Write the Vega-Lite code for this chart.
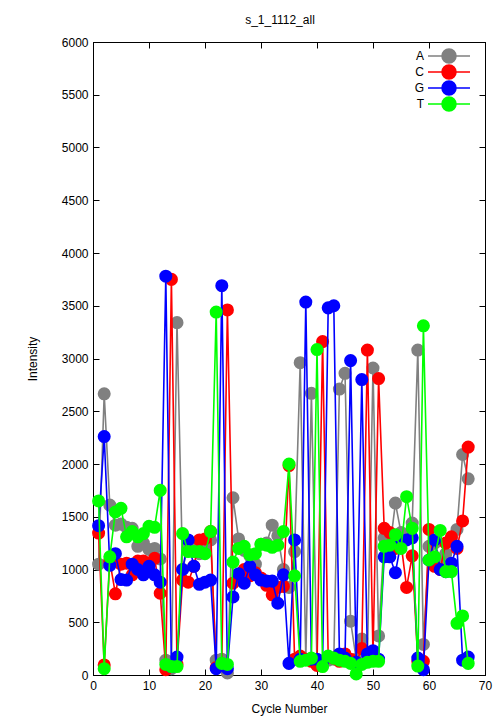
{
  "$schema": "https://vega.github.io/schema/vega-lite/v6.json",
  "autosize": "none",
  "width": 392,
  "height": 633,
  "padding": {"left": 93, "top": 42, "right": 19, "bottom": 45},
  "background": "white",
  "config": {
    "font": "Liberation Sans",
    "view": {"stroke": "black", "strokeWidth": 1},
    "axis": {"labelFont": "Liberation Sans", "titleFont": "Liberation Sans", "labelFontSize": 12, "titleFontSize": 12, "titleFontWeight": "normal", "labelColor": "black", "titleColor": "black", "domainColor": "black", "tickColor": "black", "grid": false, "tickSize": -6, "labelPadding": 11},
    "legend": {"labelFont": "Liberation Sans", "labelFontSize": 12, "padding": 0}
  },
  "title": {"text": "s_1_1112_all", "fontSize": 12, "fontWeight": "normal", "font": "Liberation Sans", "offset": 9, "dx": -9},
  "resolve": {"axis": {"x": "independent", "y": "independent"}},
  "data": {"values": [
    {"cycle":1,"base":"A","value":1050},{"cycle":1,"base":"C","value":1345},{"cycle":1,"base":"G","value":1415},{"cycle":1,"base":"T","value":1650},
    {"cycle":2,"base":"A","value":2665},{"cycle":2,"base":"C","value":95},{"cycle":2,"base":"G","value":2260},{"cycle":2,"base":"T","value":60},
    {"cycle":3,"base":"A","value":1610},{"cycle":3,"base":"C","value":1080},{"cycle":3,"base":"G","value":1040},{"cycle":3,"base":"T","value":1120},
    {"cycle":4,"base":"A","value":1420},{"cycle":4,"base":"C","value":770},{"cycle":4,"base":"G","value":1150},{"cycle":4,"base":"T","value":1545},
    {"cycle":5,"base":"A","value":1430},{"cycle":5,"base":"C","value":1050},{"cycle":5,"base":"G","value":905},{"cycle":5,"base":"T","value":1580},
    {"cycle":6,"base":"A","value":1400},{"cycle":6,"base":"C","value":1060},{"cycle":6,"base":"G","value":900},{"cycle":6,"base":"T","value":1310},
    {"cycle":7,"base":"A","value":1390},{"cycle":7,"base":"C","value":950},{"cycle":7,"base":"G","value":1050},{"cycle":7,"base":"T","value":1360},
    {"cycle":8,"base":"A","value":1220},{"cycle":8,"base":"C","value":1080},{"cycle":8,"base":"G","value":1000},{"cycle":8,"base":"T","value":1310},
    {"cycle":9,"base":"A","value":1250},{"cycle":9,"base":"C","value":1080},{"cycle":9,"base":"G","value":950},{"cycle":9,"base":"T","value":1340},
    {"cycle":10,"base":"A","value":1190},{"cycle":10,"base":"C","value":1060},{"cycle":10,"base":"G","value":1030},{"cycle":10,"base":"T","value":1410},
    {"cycle":11,"base":"A","value":1200},{"cycle":11,"base":"C","value":1106},{"cycle":11,"base":"G","value":950},{"cycle":11,"base":"T","value":1400},
    {"cycle":12,"base":"A","value":1100},{"cycle":12,"base":"C","value":775},{"cycle":12,"base":"G","value":880},{"cycle":12,"base":"T","value":1750},
    {"cycle":13,"base":"A","value":140},{"cycle":13,"base":"C","value":50},{"cycle":13,"base":"G","value":3780},{"cycle":13,"base":"T","value":100},
    {"cycle":14,"base":"A","value":60},{"cycle":14,"base":"C","value":3750},{"cycle":14,"base":"G","value":80},{"cycle":14,"base":"T","value":80},
    {"cycle":15,"base":"A","value":3340},{"cycle":15,"base":"C","value":100},{"cycle":15,"base":"G","value":170},{"cycle":15,"base":"T","value":80},
    {"cycle":16,"base":"A","value":1000},{"cycle":16,"base":"C","value":900},{"cycle":16,"base":"G","value":1000},{"cycle":16,"base":"T","value":1340},
    {"cycle":17,"base":"A","value":1230},{"cycle":17,"base":"C","value":880},{"cycle":17,"base":"G","value":1280},{"cycle":17,"base":"T","value":1170},
    {"cycle":18,"base":"A","value":1220},{"cycle":18,"base":"C","value":1030},{"cycle":18,"base":"G","value":1030},{"cycle":18,"base":"T","value":1170},
    {"cycle":19,"base":"A","value":1150},{"cycle":19,"base":"C","value":1280},{"cycle":19,"base":"G","value":860},{"cycle":19,"base":"T","value":1170},
    {"cycle":20,"base":"A","value":1200},{"cycle":20,"base":"C","value":1290},{"cycle":20,"base":"G","value":880},{"cycle":20,"base":"T","value":1150},
    {"cycle":21,"base":"A","value":1280},{"cycle":21,"base":"C","value":1360},{"cycle":21,"base":"G","value":900},{"cycle":21,"base":"T","value":1360},
    {"cycle":22,"base":"A","value":140},{"cycle":22,"base":"C","value":70},{"cycle":22,"base":"G","value":60},{"cycle":22,"base":"T","value":3440},
    {"cycle":23,"base":"A","value":150},{"cycle":23,"base":"C","value":100},{"cycle":23,"base":"G","value":3690},{"cycle":23,"base":"T","value":110},
    {"cycle":24,"base":"A","value":20},{"cycle":24,"base":"C","value":3460},{"cycle":24,"base":"G","value":60},{"cycle":24,"base":"T","value":100},
    {"cycle":25,"base":"A","value":1680},{"cycle":25,"base":"C","value":870},{"cycle":25,"base":"G","value":740},{"cycle":25,"base":"T","value":1070},
    {"cycle":26,"base":"A","value":1290},{"cycle":26,"base":"C","value":920},{"cycle":26,"base":"G","value":960},{"cycle":26,"base":"T","value":1200},
    {"cycle":27,"base":"A","value":1180},{"cycle":27,"base":"C","value":1000},{"cycle":27,"base":"G","value":870},{"cycle":27,"base":"T","value":1220},
    {"cycle":28,"base":"A","value":1130},{"cycle":28,"base":"C","value":940},{"cycle":28,"base":"G","value":1030},{"cycle":28,"base":"T","value":1140},
    {"cycle":29,"base":"A","value":1050},{"cycle":29,"base":"C","value":970},{"cycle":29,"base":"G","value":950},{"cycle":29,"base":"T","value":1150},
    {"cycle":30,"base":"A","value":1240},{"cycle":30,"base":"C","value":920},{"cycle":30,"base":"G","value":900},{"cycle":30,"base":"T","value":1240},
    {"cycle":31,"base":"A","value":1250},{"cycle":31,"base":"C","value":850},{"cycle":31,"base":"G","value":890},{"cycle":31,"base":"T","value":1230},
    {"cycle":32,"base":"A","value":1420},{"cycle":32,"base":"C","value":760},{"cycle":32,"base":"G","value":890},{"cycle":32,"base":"T","value":1210},
    {"cycle":33,"base":"A","value":1320},{"cycle":33,"base":"C","value":830},{"cycle":33,"base":"G","value":680},{"cycle":33,"base":"T","value":1230},
    {"cycle":34,"base":"A","value":1000},{"cycle":34,"base":"C","value":840},{"cycle":34,"base":"G","value":950},{"cycle":34,"base":"T","value":1360},
    {"cycle":35,"base":"A","value":830},{"cycle":35,"base":"C","value":1985},{"cycle":35,"base":"G","value":110},{"cycle":35,"base":"T","value":2000},
    {"cycle":36,"base":"A","value":1170},{"cycle":36,"base":"C","value":150},{"cycle":36,"base":"G","value":1280},{"cycle":36,"base":"T","value":940},
    {"cycle":37,"base":"A","value":2960},{"cycle":37,"base":"C","value":180},{"cycle":37,"base":"G","value":150},{"cycle":37,"base":"T","value":130},
    {"cycle":38,"base":"A","value":150},{"cycle":38,"base":"C","value":150},{"cycle":38,"base":"G","value":3535},{"cycle":38,"base":"T","value":140},
    {"cycle":39,"base":"A","value":2670},{"cycle":39,"base":"C","value":130},{"cycle":39,"base":"G","value":150},{"cycle":39,"base":"T","value":160},
    {"cycle":40,"base":"A","value":100},{"cycle":40,"base":"C","value":90},{"cycle":40,"base":"G","value":150},{"cycle":40,"base":"T","value":3085},
    {"cycle":41,"base":"A","value":100},{"cycle":41,"base":"C","value":3160},{"cycle":41,"base":"G","value":120},{"cycle":41,"base":"T","value":80},
    {"cycle":42,"base":"A","value":140},{"cycle":42,"base":"C","value":170},{"cycle":42,"base":"G","value":3480},{"cycle":42,"base":"T","value":180},
    {"cycle":43,"base":"A","value":150},{"cycle":43,"base":"C","value":160},{"cycle":43,"base":"G","value":3500},{"cycle":43,"base":"T","value":160},
    {"cycle":44,"base":"A","value":2710},{"cycle":44,"base":"C","value":130},{"cycle":44,"base":"G","value":200},{"cycle":44,"base":"T","value":140},
    {"cycle":45,"base":"A","value":2860},{"cycle":45,"base":"C","value":200},{"cycle":45,"base":"G","value":160},{"cycle":45,"base":"T","value":130},
    {"cycle":46,"base":"A","value":510},{"cycle":46,"base":"C","value":150},{"cycle":46,"base":"G","value":2980},{"cycle":46,"base":"T","value":110},
    {"cycle":47,"base":"A","value":150},{"cycle":47,"base":"C","value":120},{"cycle":47,"base":"G","value":120},{"cycle":47,"base":"T","value":10},
    {"cycle":48,"base":"A","value":340},{"cycle":48,"base":"C","value":250},{"cycle":48,"base":"G","value":2800},{"cycle":48,"base":"T","value":100},
    {"cycle":49,"base":"A","value":160},{"cycle":49,"base":"C","value":3080},{"cycle":49,"base":"G","value":200},{"cycle":49,"base":"T","value":120},
    {"cycle":50,"base":"A","value":2910},{"cycle":50,"base":"C","value":180},{"cycle":50,"base":"G","value":230},{"cycle":50,"base":"T","value":130},
    {"cycle":51,"base":"A","value":370},{"cycle":51,"base":"C","value":2810},{"cycle":51,"base":"G","value":150},{"cycle":51,"base":"T","value":130},
    {"cycle":52,"base":"A","value":1300},{"cycle":52,"base":"C","value":1390},{"cycle":52,"base":"G","value":1120},{"cycle":52,"base":"T","value":1220},
    {"cycle":53,"base":"A","value":1200},{"cycle":53,"base":"C","value":1350},{"cycle":53,"base":"G","value":1120},{"cycle":53,"base":"T","value":1230},
    {"cycle":54,"base":"A","value":1630},{"cycle":54,"base":"C","value":1200},{"cycle":54,"base":"G","value":970},{"cycle":54,"base":"T","value":1330},
    {"cycle":55,"base":"A","value":1350},{"cycle":55,"base":"C","value":1250},{"cycle":55,"base":"G","value":1260},{"cycle":55,"base":"T","value":1200},
    {"cycle":56,"base":"A","value":1300},{"cycle":56,"base":"C","value":830},{"cycle":56,"base":"G","value":1280},{"cycle":56,"base":"T","value":1690},
    {"cycle":57,"base":"A","value":1440},{"cycle":57,"base":"C","value":1130},{"cycle":57,"base":"G","value":1300},{"cycle":57,"base":"T","value":1390},
    {"cycle":58,"base":"A","value":3080},{"cycle":58,"base":"C","value":130},{"cycle":58,"base":"G","value":160},{"cycle":58,"base":"T","value":85},
    {"cycle":59,"base":"A","value":290},{"cycle":59,"base":"C","value":130},{"cycle":59,"base":"G","value":50},{"cycle":59,"base":"T","value":3310},
    {"cycle":60,"base":"A","value":1220},{"cycle":60,"base":"C","value":1380},{"cycle":60,"base":"G","value":1090},{"cycle":60,"base":"T","value":1090},
    {"cycle":61,"base":"A","value":1250},{"cycle":61,"base":"C","value":1030},{"cycle":61,"base":"G","value":1280},{"cycle":61,"base":"T","value":1120},
    {"cycle":62,"base":"A","value":1100},{"cycle":62,"base":"C","value":1000},{"cycle":62,"base":"G","value":1000},{"cycle":62,"base":"T","value":1370},
    {"cycle":63,"base":"A","value":1150},{"cycle":63,"base":"C","value":1250},{"cycle":63,"base":"G","value":980},{"cycle":63,"base":"T","value":980},
    {"cycle":64,"base":"A","value":1300},{"cycle":64,"base":"C","value":1310},{"cycle":64,"base":"G","value":1060},{"cycle":64,"base":"T","value":980},
    {"cycle":65,"base":"A","value":1380},{"cycle":65,"base":"C","value":1200},{"cycle":65,"base":"G","value":1220},{"cycle":65,"base":"T","value":490},
    {"cycle":66,"base":"A","value":2090},{"cycle":66,"base":"C","value":1460},{"cycle":66,"base":"G","value":140},{"cycle":66,"base":"T","value":560},
    {"cycle":67,"base":"A","value":1860},{"cycle":67,"base":"C","value":2160},{"cycle":67,"base":"G","value":170},{"cycle":67,"base":"T","value":110}
  ]},
  "layer": [
    {
      "encoding": {
        "x": {"field": "cycle", "type": "quantitative", "scale": {"domain": [0, 70], "nice": false, "zero": false}, "axis": {"orient": "bottom", "title": "Cycle Number", "values": [0,10,20,30,40,50,60,70], "titlePadding": 12, "labelFlush": false}},
        "y": {"field": "value", "type": "quantitative", "scale": {"domain": [0, 6000], "nice": false}, "axis": {"orient": "left", "title": "Intensity", "format": "d", "values": [0,500,1000,1500,2000,2500,3000,3500,4000,4500,5000,5500,6000], "titlePadding": 22, "labelFlush": false}},
        "color": {"field": "base", "type": "nominal", "scale": {"domain": ["A","C","G","T"], "range": ["#808080","#ff0000","#0000ff","#00ff00"]},
          "legend": {"title": null, "orient": "none", "legendX": 350, "legendY": 8, "symbolType": "M-5.25,0L5.25,0M1.75,0L1.617,0.67L1.237,1.237L0.67,1.617L0,1.75L-0.67,1.617L-1.237,1.237L-1.617,0.67L-1.75,0L-1.617,-0.67L-1.237,-1.237L-0.67,-1.617L0,-1.75L0.67,-1.617L1.237,-1.237L1.617,-0.67Z", "symbolSize": 64, "symbolStrokeWidth": 1.5, "rowPadding": -9, "labelOffset": -31, "labelAlign": "right",
            "encode": {"symbols": {"update": {"fill": {"scale": "color", "field": "value"}, "stroke": {"scale": "color", "field": "value"}, "opacity": {"value": 1}}}}}}
      },
      "layer": [
        {"transform": [{"filter": "datum.base === 'A'"}], "mark": {"type": "line", "strokeWidth": 1.6}},
        {"transform": [{"filter": "datum.base === 'A'"}], "mark": {"type": "point", "shape": "circle", "filled": true, "size": 170, "opacity": 1}},
        {"transform": [{"filter": "datum.base === 'C'"}], "mark": {"type": "line", "strokeWidth": 1.6}},
        {"transform": [{"filter": "datum.base === 'C'"}], "mark": {"type": "point", "shape": "circle", "filled": true, "size": 170, "opacity": 1}},
        {"transform": [{"filter": "datum.base === 'G'"}], "mark": {"type": "line", "strokeWidth": 1.6}},
        {"transform": [{"filter": "datum.base === 'G'"}], "mark": {"type": "point", "shape": "circle", "filled": true, "size": 170, "opacity": 1}},
        {"transform": [{"filter": "datum.base === 'T'"}], "mark": {"type": "line", "strokeWidth": 1.6}},
        {"transform": [{"filter": "datum.base === 'T'"}], "mark": {"type": "point", "shape": "circle", "filled": true, "size": 170, "opacity": 1}}
      ]
    },
    {"mark": {"type": "point", "opacity": 0},
     "encoding": {
       "x": {"field": "cycle", "type": "quantitative", "scale": {"domain": [0, 70], "nice": false, "zero": false}, "axis": {"orient": "top", "title": null, "labels": false, "values": [0,10,20,30,40,50,60,70]}},
       "y": {"field": "value", "type": "quantitative", "scale": {"domain": [0, 6000], "nice": false}, "axis": {"orient": "right", "title": null, "labels": false, "values": [0,500,1000,1500,2000,2500,3000,3500,4000,4500,5000,5500,6000]}}
     }}
  ]
}
